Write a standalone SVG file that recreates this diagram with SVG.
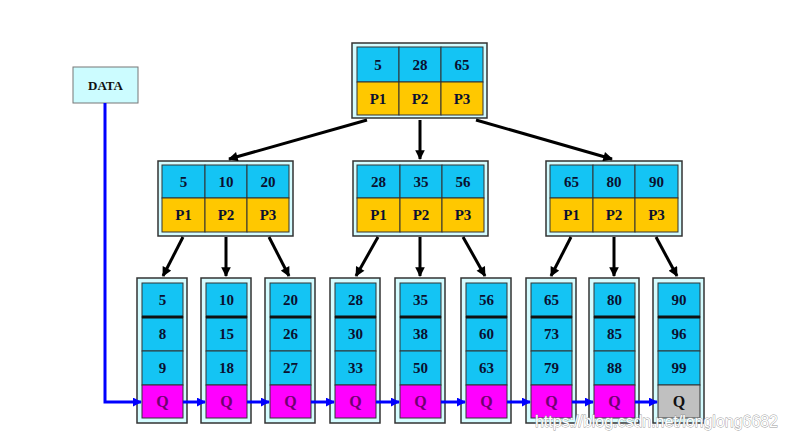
<svg xmlns="http://www.w3.org/2000/svg" width="788" height="438" viewBox="0 0 788 438">
<style>
.frame{fill:#d4fcff;stroke:#333;stroke-width:1.5}
.c{fill:#14c4f4;stroke:#333;stroke-width:1}
.o{fill:#ffc800;stroke:#333;stroke-width:1}
.q{fill:#ff00ff;stroke:#333;stroke-width:1}
.g{fill:#c0c0c0;stroke:#333;stroke-width:1}
.sep{stroke:#111;stroke-width:3}
text{font-family:"Liberation Serif","Times New Roman",serif;font-weight:bold;font-size:15px;fill:#0a1030;text-anchor:middle}
.tq{fill:#700070;font-size:16px}
.tg{fill:#111;font-size:16px}
.data{font-size:13px;fill:#111}
.blk{stroke:#000;stroke-width:3;fill:none;marker-end:url(#ab)}
.blu{stroke:#0000ff;stroke-width:3;fill:none}
.wm{font-family:"Liberation Sans",Arial,sans-serif;font-weight:normal;font-size:16px;fill:#fff;stroke:#999;stroke-width:0.8;paint-order:stroke;text-anchor:start}
</style>
<defs>
<marker id="ab" viewBox="0 0 10 10" refX="9" refY="5" markerWidth="3.6" markerHeight="3.2" orient="auto" markerUnits="strokeWidth">
<path d="M0,0 L10,5 L0,10 z" fill="#000"/>
</marker>
<marker id="bb" viewBox="0 0 10 10" refX="9" refY="5" markerWidth="3" markerHeight="3" orient="auto" markerUnits="strokeWidth">
<path d="M0,0 L10,5 L0,10 z" fill="#0000ff"/>
</marker>
</defs>
<rect width="788" height="438" fill="#fff"/>

<g id="data">
<rect x="73" y="67" width="65" height="36" fill="#ccfcff" stroke="#777" stroke-width="1"/>
<text class="data" x="105.5" y="90">DATA</text>
</g>

<g id="root" transform="translate(352,43)">
<rect class="frame" x="0" y="0" width="135" height="75"/>
<rect class="c" x="5" y="4" width="42" height="35"/><rect class="c" x="47" y="4" width="42" height="35"/><rect class="c" x="89" y="4" width="42" height="35"/>
<rect class="o" x="5" y="39" width="42" height="33"/><rect class="o" x="47" y="39" width="42" height="33"/><rect class="o" x="89" y="39" width="42" height="33"/>
<text x="26" y="27">5</text><text x="68" y="27">28</text><text x="110" y="27">65</text>
<text x="26" y="61">P1</text><text x="68" y="61">P2</text><text x="110" y="61">P3</text>
</g>

<g id="n1" transform="translate(158,161)">
<rect class="frame" x="0" y="0" width="135" height="75"/>
<rect class="c" x="4" y="4" width="43" height="33"/><rect class="c" x="47" y="4" width="42" height="33"/><rect class="c" x="89" y="4" width="42" height="33"/>
<rect class="o" x="4" y="37" width="43" height="34"/><rect class="o" x="47" y="37" width="42" height="34"/><rect class="o" x="89" y="37" width="42" height="34"/>
<text x="25.5" y="26">5</text><text x="68" y="26">10</text><text x="110" y="26">20</text>
<text x="25.5" y="59">P1</text><text x="68" y="59">P2</text><text x="110" y="59">P3</text>
</g>

<g id="n2" transform="translate(353,161)">
<rect class="frame" x="0" y="0" width="135" height="75"/>
<rect class="c" x="4" y="4" width="43" height="33"/><rect class="c" x="47" y="4" width="42" height="33"/><rect class="c" x="89" y="4" width="42" height="33"/>
<rect class="o" x="4" y="37" width="43" height="34"/><rect class="o" x="47" y="37" width="42" height="34"/><rect class="o" x="89" y="37" width="42" height="34"/>
<text x="25.5" y="26">28</text><text x="68" y="26">35</text><text x="110" y="26">56</text>
<text x="25.5" y="59">P1</text><text x="68" y="59">P2</text><text x="110" y="59">P3</text>
</g>

<g id="n3" transform="translate(546,161)">
<rect class="frame" x="0" y="0" width="136" height="75"/>
<rect class="c" x="4" y="4" width="43" height="33"/><rect class="c" x="47" y="4" width="42" height="33"/><rect class="c" x="89" y="4" width="43" height="33"/>
<rect class="o" x="4" y="37" width="43" height="34"/><rect class="o" x="47" y="37" width="42" height="34"/><rect class="o" x="89" y="37" width="43" height="34"/>
<text x="25.5" y="26">65</text><text x="68" y="26">80</text><text x="110.5" y="26">90</text>
<text x="25.5" y="59">P1</text><text x="68" y="59">P2</text><text x="110.5" y="59">P3</text>
</g>

<g id="leaf1" transform="translate(137,278)">
<rect class="frame" x="0" y="0" width="50" height="145"/>
<rect class="c" x="5" y="5" width="41" height="34"/><rect class="c" x="5" y="39" width="41" height="34"/><rect class="c" x="5" y="73" width="41" height="34"/><rect class="q" x="5" y="107" width="41" height="33"/>
<line class="sep" x1="5" y1="39" x2="46" y2="39"/>
<text x="25.5" y="27">5</text><text x="25.5" y="61">8</text><text x="25.5" y="95">9</text><text class="tq" x="25.5" y="129">Q</text>
</g>
<g id="leaf2" transform="translate(201,278)">
<rect class="frame" x="0" y="0" width="50" height="145"/>
<rect class="c" x="5" y="5" width="41" height="34"/><rect class="c" x="5" y="39" width="41" height="34"/><rect class="c" x="5" y="73" width="41" height="34"/><rect class="q" x="5" y="107" width="41" height="33"/>
<line class="sep" x1="5" y1="39" x2="46" y2="39"/>
<text x="25.5" y="27">10</text><text x="25.5" y="61">15</text><text x="25.5" y="95">18</text><text class="tq" x="25.5" y="129">Q</text>
</g>
<g id="leaf3" transform="translate(265,278)">
<rect class="frame" x="0" y="0" width="50" height="145"/>
<rect class="c" x="5" y="5" width="41" height="34"/><rect class="c" x="5" y="39" width="41" height="34"/><rect class="c" x="5" y="73" width="41" height="34"/><rect class="q" x="5" y="107" width="41" height="33"/>
<line class="sep" x1="5" y1="39" x2="46" y2="39"/>
<text x="25.5" y="27">20</text><text x="25.5" y="61">26</text><text x="25.5" y="95">27</text><text class="tq" x="25.5" y="129">Q</text>
</g>
<g id="leaf4" transform="translate(330,278)">
<rect class="frame" x="0" y="0" width="50" height="145"/>
<rect class="c" x="5" y="5" width="41" height="34"/><rect class="c" x="5" y="39" width="41" height="34"/><rect class="c" x="5" y="73" width="41" height="34"/><rect class="q" x="5" y="107" width="41" height="33"/>
<line class="sep" x1="5" y1="39" x2="46" y2="39"/>
<text x="25.5" y="27">28</text><text x="25.5" y="61">30</text><text x="25.5" y="95">33</text><text class="tq" x="25.5" y="129">Q</text>
</g>
<g id="leaf5" transform="translate(395,278)">
<rect class="frame" x="0" y="0" width="50" height="145"/>
<rect class="c" x="5" y="5" width="41" height="34"/><rect class="c" x="5" y="39" width="41" height="34"/><rect class="c" x="5" y="73" width="41" height="34"/><rect class="q" x="5" y="107" width="41" height="33"/>
<line class="sep" x1="5" y1="39" x2="46" y2="39"/>
<text x="25.5" y="27">35</text><text x="25.5" y="61">38</text><text x="25.5" y="95">50</text><text class="tq" x="25.5" y="129">Q</text>
</g>
<g id="leaf6" transform="translate(461,278)">
<rect class="frame" x="0" y="0" width="50" height="145"/>
<rect class="c" x="5" y="5" width="41" height="34"/><rect class="c" x="5" y="39" width="41" height="34"/><rect class="c" x="5" y="73" width="41" height="34"/><rect class="q" x="5" y="107" width="41" height="33"/>
<line class="sep" x1="5" y1="39" x2="46" y2="39"/>
<text x="25.5" y="27">56</text><text x="25.5" y="61">60</text><text x="25.5" y="95">63</text><text class="tq" x="25.5" y="129">Q</text>
</g>
<g id="leaf7" transform="translate(526,278)">
<rect class="frame" x="0" y="0" width="50" height="145"/>
<rect class="c" x="5" y="5" width="41" height="34"/><rect class="c" x="5" y="39" width="41" height="34"/><rect class="c" x="5" y="73" width="41" height="34"/><rect class="q" x="5" y="107" width="41" height="33"/>
<line class="sep" x1="5" y1="39" x2="46" y2="39"/>
<text x="25.5" y="27">65</text><text x="25.5" y="61">73</text><text x="25.5" y="95">79</text><text class="tq" x="25.5" y="129">Q</text>
</g>
<g id="leaf8" transform="translate(589,278)">
<rect class="frame" x="0" y="0" width="50" height="145"/>
<rect class="c" x="5" y="5" width="41" height="34"/><rect class="c" x="5" y="39" width="41" height="34"/><rect class="c" x="5" y="73" width="41" height="34"/><rect class="q" x="5" y="107" width="41" height="33"/>
<line class="sep" x1="5" y1="39" x2="46" y2="39"/>
<text x="25.5" y="27">80</text><text x="25.5" y="61">85</text><text x="25.5" y="95">88</text><text class="tq" x="25.5" y="129">Q</text>
</g>
<g id="leaf9" transform="translate(653,278)">
<rect class="frame" x="0" y="0" width="51" height="145"/>
<rect class="c" x="5" y="5" width="42" height="34"/><rect class="c" x="5" y="39" width="42" height="34"/><rect class="c" x="5" y="73" width="42" height="34"/><rect class="g" x="5" y="107" width="42" height="33"/>
<line class="sep" x1="5" y1="39" x2="47" y2="39"/>
<text x="26" y="27">90</text><text x="26" y="61">96</text><text x="26" y="95">99</text><text class="tg" x="26" y="129">Q</text>
</g>

<g id="connectors">
<line class="blk" x1="367" y1="120" x2="229" y2="159"/>
<line class="blk" x1="420" y1="120" x2="420" y2="159"/>
<line class="blk" x1="476" y1="120" x2="612" y2="159"/>
<line class="blk" x1="183" y1="237" x2="163" y2="276"/>
<line class="blk" x1="226" y1="237" x2="226" y2="276"/>
<line class="blk" x1="269" y1="237" x2="289" y2="276"/>
<line class="blk" x1="378" y1="237" x2="356" y2="276"/>
<line class="blk" x1="420" y1="237" x2="420" y2="276"/>
<line class="blk" x1="463" y1="237" x2="485" y2="276"/>
<line class="blk" x1="571" y1="237" x2="551" y2="276"/>
<line class="blk" x1="614" y1="237" x2="614" y2="276"/>
<line class="blk" x1="656" y1="237" x2="677" y2="276"/>
<path class="blu" d="M105,103 V402 H141" marker-end="url(#bb)"/>
<line class="blu" x1="183" y1="402" x2="205" y2="402" marker-end="url(#bb)"/>
<line class="blu" x1="247" y1="402" x2="269" y2="402" marker-end="url(#bb)"/>
<line class="blu" x1="311" y1="402" x2="334" y2="402" marker-end="url(#bb)"/>
<line class="blu" x1="376" y1="402" x2="399" y2="402" marker-end="url(#bb)"/>
<line class="blu" x1="441" y1="402" x2="465" y2="402" marker-end="url(#bb)"/>
<line class="blu" x1="507" y1="402" x2="530" y2="402" marker-end="url(#bb)"/>
<line class="blu" x1="572" y1="402" x2="593" y2="402" marker-end="url(#bb)"/>
<line class="blu" x1="635" y1="402" x2="657" y2="402" marker-end="url(#bb)"/>
</g>

<text class="wm" x="535" y="427" textLength="243" lengthAdjust="spacingAndGlyphs">https://blog.csdn.net/longlong6682</text>
</svg>
